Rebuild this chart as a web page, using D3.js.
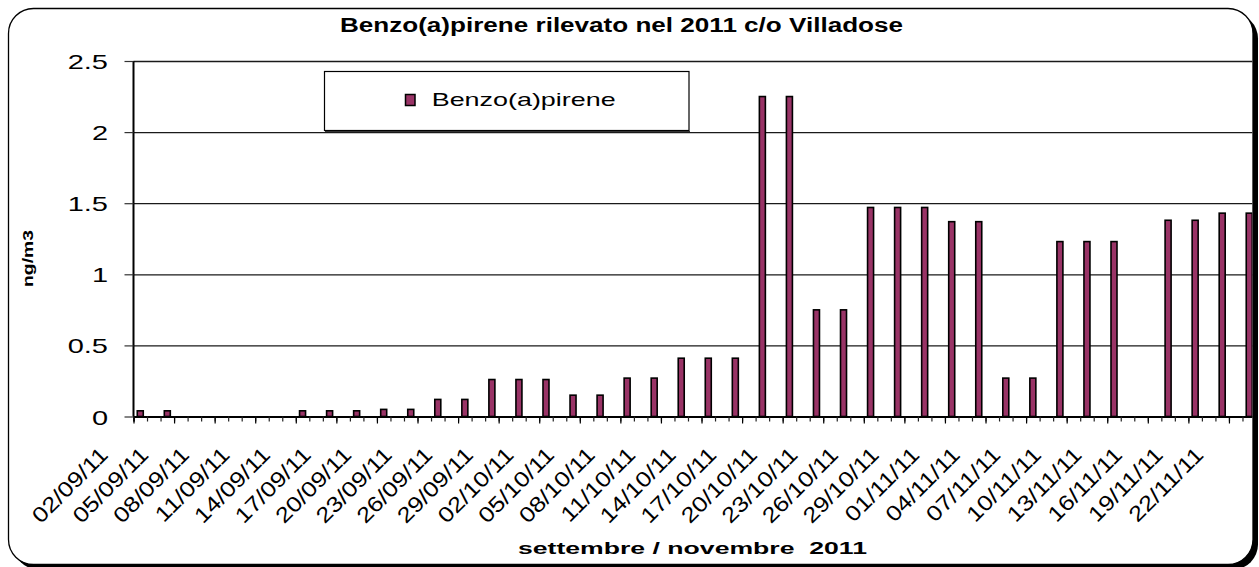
<!DOCTYPE html>
<html>
<head>
<meta charset="utf-8">
<script src="https://cdn.jsdelivr.net/npm/d3@7"></script>
<style>
  html, body { margin: 0; padding: 0; background: #fff; }
  text { font-family: "Liberation Sans", Arial, sans-serif; fill: #000; }
</style>
</head>
<body>
<div id="paper"></div>
<script>
// benzo(a)pirene - Villadose 2011
// one bar every other day, 15/11 missing

const sampleDates = [
  "02/09/11", "04/09/11", "14/09/11", "16/09/11", "18/09/11", "20/09/11",
  "22/09/11", "24/09/11", "26/09/11", "28/09/11", "30/09/11", "02/10/11",
  "04/10/11", "06/10/11", "08/10/11", "10/10/11", "12/10/11", "14/10/11",
  "16/10/11", "18/10/11", "20/10/11", "22/10/11", "24/10/11", "26/10/11",
  "28/10/11", "30/10/11", "01/11/11", "03/11/11", "05/11/11", "07/11/11",
  "09/11/11", "11/11/11", "13/11/11", "17/11/11", "19/11/11", "21/11/11",
  "23/11/11"
];
const bapValues = [
  0.04, 0.04, 0.04, 0.04, 0.04, 0.05,
  0.05, 0.12, 0.12, 0.26, 0.26, 0.26,
  0.15, 0.15, 0.27, 0.27, 0.41, 0.41,
  0.41, 2.25, 2.25, 0.75, 0.75, 1.47,
  1.47, 1.47, 1.37, 1.37, 0.27, 0.27,
  1.23, 1.23, 1.23, 1.38, 1.38, 1.43,
  1.43
];
const tickLabels = [
  "02/09/11", "05/09/11", "08/09/11", "11/09/11", "14/09/11", "17/09/11",
  "20/09/11", "23/09/11", "26/09/11", "29/09/11", "02/10/11", "05/10/11",
  "08/10/11", "11/10/11", "14/10/11", "17/10/11", "20/10/11", "23/10/11",
  "26/10/11", "29/10/11", "01/11/11", "04/11/11", "07/11/11", "10/11/11",
  "13/11/11", "16/11/11", "19/11/11", "22/11/11"
];
const yTicks = [0, 0.5, 1, 1.5, 2, 2.5];

const firstDay = new Date(2011, 8, 2);
const lastDay = new Date(2011, 10, 23);
const fmt = d3.timeFormat("%d/%m/%y");
const days = d3.timeDay.range(firstDay, d3.timeDay.offset(lastDay, 1)).map(fmt);

const W = 1259, H = 567;
const plot = { left: 133.5, right: 1256, top: 61, bottom: 416.5 };
const barColour = "#993366";

const svg = d3.select("#paper").append("svg")
  .attr("width", W).attr("height", H)
  .style("display", "block");

// chart frame with shadow
const frame = { x: 8.5, y: 8.5, w: 1244.5, h: 556, r: 25 };
svg.append("rect")
  .attr("x", frame.x + 5).attr("y", frame.y + 5)
  .attr("width", frame.w).attr("height", frame.h)
  .attr("rx", frame.r)
  .attr("fill", "#000");
svg.append("rect")
  .attr("x", frame.x).attr("y", frame.y)
  .attr("width", frame.w).attr("height", frame.h)
  .attr("rx", frame.r)
  .attr("fill", "#fff").attr("stroke", "#000").attr("stroke-width", 1.3);

svg.append("clipPath").attr("id", "clip")
  .append("rect")
  .attr("x", frame.x).attr("y", frame.y)
  .attr("width", frame.w - 0.7).attr("height", frame.h)
  .attr("rx", frame.r);

const g = svg.append("g").attr("clip-path", "url(#clip)");

const x = d3.scaleBand().domain(days).range([plot.left, plot.right]).padding(0);
const xIdx = d3.scaleLinear().domain([0, days.length]).range([plot.left, plot.right]);
const y = d3.scaleLinear().domain([0, 2.5]).range([plot.bottom, plot.top]);

// gridlines
g.append("g")
  .attr("transform", `translate(${plot.left},0)`)
  .call(d3.axisLeft(y).tickValues(yTicks.slice(1)).tickSize(-(plot.right - plot.left)).tickFormat(""))
  .call((s) => s.select(".domain").remove())
  .call((s) => s.selectAll("line").attr("stroke", "#1a1a1a").attr("stroke-width", 1.3));

// bars
g.selectAll("rect.bar")
  .data(sampleDates.map((d, i) => ({ date: d, v: bapValues[i] })))
  .join("rect")
  .attr("class", "bar")
  .attr("x", (d) => x(d.date) + x.bandwidth() / 2 - 3)
  .attr("width", 6)
  .attr("y", (d) => y(d.v))
  .attr("height", (d) => plot.bottom - y(d.v))
  .attr("fill", barColour)
  .attr("stroke", "#000")
  .attr("stroke-width", 1.6);

// x axis: minor ticks every day, major every 3 days
g.append("g")
  .attr("transform", `translate(0,${plot.bottom})`)
  .call(d3.axisBottom(xIdx).tickValues(d3.range(0, days.length + 1)).tickSize(5).tickFormat(""))
  .call((s) => s.selectAll("line").attr("stroke", "#222").attr("stroke-width", 1.2))
  .call((s) => s.select(".domain").attr("stroke", "#000").attr("stroke-width", 1.8));
g.append("g")
  .attr("transform", `translate(0,${plot.bottom})`)
  .call(d3.axisBottom(xIdx).tickValues(d3.range(0, days.length + 1, 3)).tickSize(7).tickFormat(""))
  .call((s) => s.select(".domain").remove())
  .call((s) => s.selectAll("line").attr("stroke", "#000").attr("stroke-width", 1.2));

// y axis
const yAxis = svg.append("g")
  .attr("transform", `translate(${plot.left},0)`)
  .call(d3.axisLeft(y).tickValues(yTicks).tickSize(9).tickFormat(""));
yAxis.select(".domain").attr("stroke", "#000").attr("stroke-width", 2).attr("d", `M0,${plot.top}V${plot.bottom}`);
yAxis.selectAll("line").attr("stroke", "#333").attr("stroke-width", 1.2);

svg.append("g").selectAll("text")
  .data(yTicks)
  .join("text")
  .attr("transform", (d) => `translate(108,${y(d) + 8}) scale(1.45,1)`)
  .attr("text-anchor", "end")
  .attr("font-size", 20)
  .text((d) => d3.format("")(d));

// x tick labels, rotated
svg.append("g").selectAll("text")
  .data(tickLabels)
  .join("text")
  .attr("transform", (d, i) => {
    let cx = x(days[i * 3]) + x.bandwidth() / 2 - 31;
    return `translate(${cx},456) rotate(-45) scale(1.18,1)`;
  })
  .attr("text-anchor", "end")
  .attr("font-size", 21.5)
  .text((d) => d);

// titles
svg.append("text")
  .attr("x", 340).attr("y", 32.3)
  .attr("font-size", 19.5).attr("font-weight", "bold")
  .attr("textLength", 563).attr("lengthAdjust", "spacingAndGlyphs")
  .text("Benzo(a)pirene rilevato nel 2011 c/o Villadose");

svg.append("text")
  .attr("x", 518).attr("y", 554)
  .attr("font-size", 17).attr("font-weight", "bold")
  .attr("textLength", 349).attr("lengthAdjust", "spacingAndGlyphs")
  .attr("xml:space", "preserve")
  .style("white-space", "pre")
  .text("settembre / novembre  2011");

svg.append("text")
  .attr("transform", "translate(32.5,287) rotate(-90)")
  .attr("font-size", 15).attr("font-weight", "bold")
  .attr("textLength", 57).attr("lengthAdjust", "spacingAndGlyphs")
  .text("ng/m3");

// legend
const legend = svg.append("g");
legend.append("rect")
  .attr("x", 324.5).attr("y", 71.5).attr("width", 364.5).attr("height", 59)
  .attr("fill", "#fff").attr("stroke", "#000").attr("stroke-width", 1.2);
legend.append("line")
  .attr("x1", 325).attr("x2", 690).attr("y1", 131.5).attr("y2", 131.5)
  .attr("stroke", "#333").attr("stroke-width", 1.2);
legend.append("rect")
  .attr("x", 405.5).attr("y", 94.5).attr("width", 9.5).attr("height", 11)
  .attr("fill", barColour).attr("stroke", "#000").attr("stroke-width", 1.5);
legend.append("text")
  .attr("x", 431.7).attr("y", 106)
  .attr("font-size", 18.5)
  .attr("textLength", 184).attr("lengthAdjust", "spacingAndGlyphs")
  .text("Benzo(a)pirene");
</script>
</body>
</html>
